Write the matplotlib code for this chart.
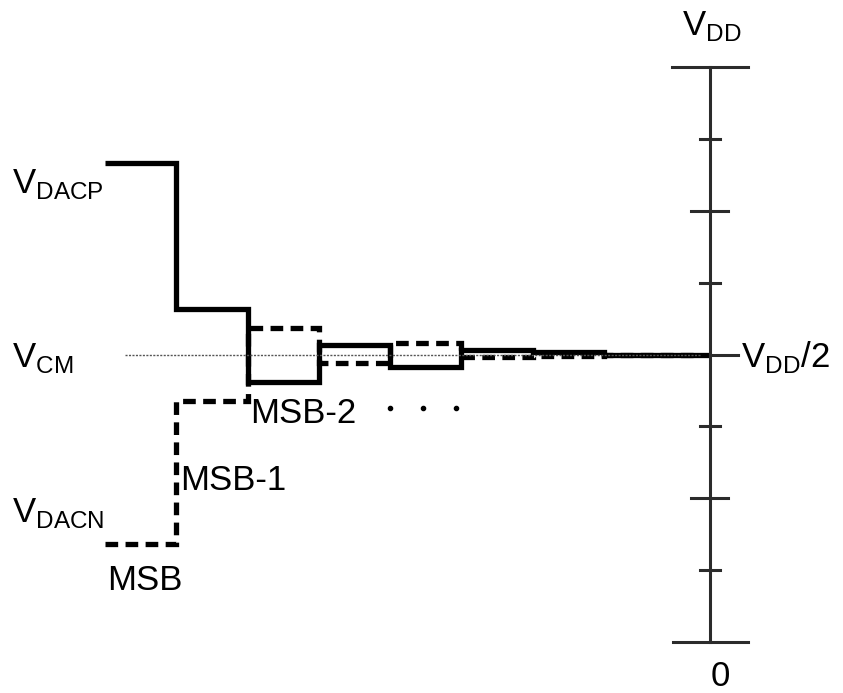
import matplotlib
matplotlib.use("Agg")
import matplotlib.pyplot as plt

plt.rcParams['font.family'] = ['Liberation Sans', 'DejaVu Sans']
plt.rcParams['mathtext.fontset'] = 'custom'
plt.rcParams['mathtext.rm'] = 'Liberation Sans'

# step edges (conversion cycles) and DAC output levels, in units of VDD
edges_p = [0, 1, 2, 3, 4, 5, 6, 7, 8.5]
edges_n = [0, 1, 2, 3, 4, 5, 6, 7, 8.35]
vdacp = [0.833, 0.579, 0.452, 0.516, 0.478, 0.508, 0.505, 0.5]
vdacn = [0.170, 0.419, 0.546, 0.485, 0.520, 0.496, 0.497, 0.5]
vcm = 0.5

# voltage scale on the right
scale_x = 8.49
scale_ticks = [0.125, 0.25, 0.375, 0.625, 0.75, 0.875]
tick_len = [0.14, 0.26, 0.14, 0.14, 0.26, 0.14]

# pixel -> data helpers (axes fill the whole figure)
W, H = 843, 693
def px(x):
    return (x - 105) / 71.25
def py(y):
    return (642 - y) / 575.0

fig = plt.figure(figsize=(W / 100, H / 100), dpi=100)
ax = fig.add_axes([0, 0, 1, 1])
ax.set_xlim(px(0), px(W))
ax.set_ylim(py(H), py(0))
ax.axis('off')

axc = '#2b2b2b'
# VCM reference line
ax.plot([px(125), px(700)], [vcm, vcm], color='#555555', lw=1.0,
        linestyle=(0, (1.5, 1.0)))

# vertical scale
ax.plot([scale_x, scale_x], [0, 1], color=axc, lw=2.2)
ax.plot([px(672), px(748)], [1, 1], color=axc, lw=2.2)
ax.plot([px(673), px(748)], [0, 0], color=axc, lw=2.2)
ax.plot([scale_x, px(738)], [vcm, vcm], color=axc, lw=2.2)
for v, l in zip(scale_ticks, tick_len):
    ax.plot([scale_x - l, scale_x + l], [v, v], color=axc, lw=2.2)

# DAC waveforms
ax.stairs(vdacp, edges_p, baseline=None, color='black', lw=3.8)
ax.stairs(vdacn, edges_n, baseline=None, color='black', lw=3.8,
          linestyle=(0, (2.4, 1.4)))

fs = 25
ax.text(px(12), py(193), r'V$_{\mathrm{DACP}}$', fontsize=fs, va='baseline')
ax.text(px(12), py(367), r'V$_{\mathrm{CM}}$', fontsize=fs, va='baseline')
ax.text(px(12), py(522), r'V$_{\mathrm{DACN}}$', fontsize=fs, va='baseline')
ax.text(px(682), py(35), r'V$_{\mathrm{DD}}$', fontsize=fs, va='baseline')
ax.text(px(741), py(367), r'V$_{\mathrm{DD}}$/2', fontsize=fs, va='baseline')
ax.text(px(711), py(686), '0', fontsize=fs, va='baseline')
ax.text(px(107), py(590), 'MSB', fontsize=fs, va='baseline')
ax.text(px(180), py(490), 'MSB-1', fontsize=fs, va='baseline')
ax.text(px(250), py(423), 'MSB-2', fontsize=fs, va='baseline')
ax.plot([px(390), px(423), px(456)], [py(408)] * 3, 'o', color='black', ms=3)

fig.savefig('out.png', dpi=100)
